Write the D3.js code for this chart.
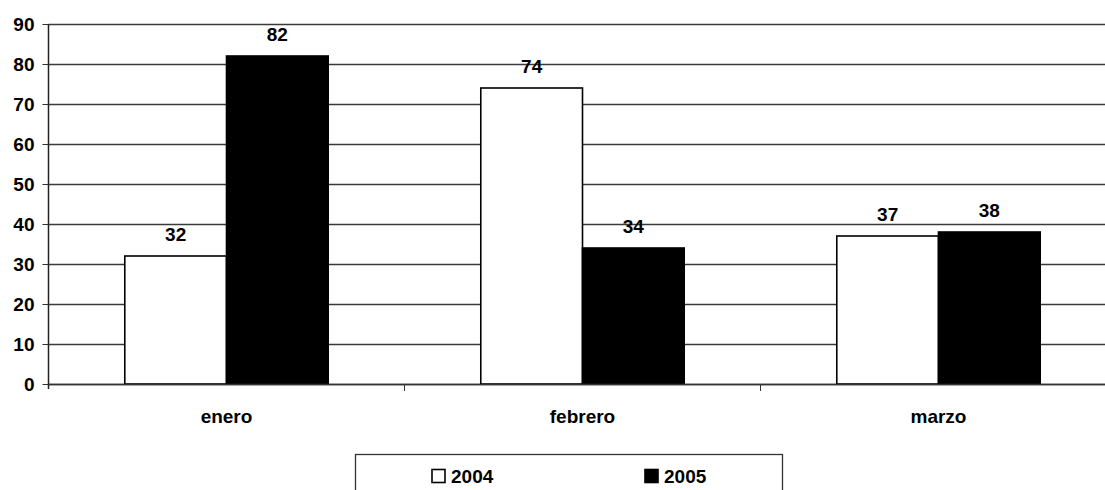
<!DOCTYPE html>
<html>
<head>
<meta charset="utf-8">
<script src="https://cdn.jsdelivr.net/npm/d3@7"></script>
<style>
  body { margin: 0; background: #fff; }
  svg { display: block; font-family: "Liberation Sans", Arial, sans-serif; font-weight: bold; }
</style>
</head>
<body>
<svg width="1105" height="490"></svg>
<script>
const months = ["enero", "febrero", "marzo"];
const years = ["2004", "2005"];
const values2004 = [32, 74, 37];
const values2005 = [82, 34, 38];
const yTicks = [0, 10, 20, 30, 40, 50, 60, 70, 80, 90];

const fills = { "2004": "#ffffff", "2005": "#000000" };
const svg = d3.select("svg");

const plotLeft = 48.5, plotTop = 24, plotBottom = 384;
const band = 356;

const x = d3.scaleBand()
  .domain(months)
  .range([plotLeft, plotLeft + band * 3])
  .paddingInner(0)
  .paddingOuter(0);

const xInner = d3.scaleBand()
  .domain(years)
  .range([0, band])
  .paddingInner(0)
  .paddingOuter(0.75);

const y = d3.scaleLinear().domain([0, 90]).range([plotBottom, plotTop]);

const data = months.map((m, i) => ({ month: m, "2004": values2004[i], "2005": values2005[i] }));

// gridlines
svg.append("g")
  .selectAll("line")
  .data(yTicks)
  .join("line")
  .attr("x1", plotLeft)
  .attr("x2", 1105)
  .attr("y1", d => Math.round(y(d)) + 0.5)
  .attr("y2", d => Math.round(y(d)) + 0.5)
  .attr("stroke", "#3a3a3a")
  .attr("stroke-width", 1.3);

// bars
const groups = svg.append("g")
  .selectAll("g")
  .data(data)
  .join("g")
  .attr("transform", d => `translate(${x(d.month)},0)`);

groups.selectAll("rect")
  .data(d => years.map(k => ({ key: k, value: d[k] })))
  .join("rect")
  .attr("x", d => xInner(d.key))
  .attr("width", xInner.bandwidth())
  .attr("y", d => y(d.value))
  .attr("height", d => plotBottom - y(d.value))
  .attr("fill", d => fills[d.key])
  .attr("stroke", "#000")
  .attr("stroke-width", 1.6);

groups.selectAll("text")
  .data(d => years.map(k => ({ key: k, value: d[k] })))
  .join("text")
  .attr("x", d => xInner(d.key) + xInner.bandwidth() / 2)
  .attr("y", d => y(d.value) - 15)
  .attr("text-anchor", "middle")
  .attr("font-size", 19)
  .text(d => d.value);

// y axis
const yAxis = svg.append("g")
  .attr("transform", `translate(${plotLeft},0)`)
  .call(d3.axisLeft(y).tickValues(yTicks).tickSize(6).tickPadding(8));
yAxis.select(".domain").attr("d", `M0,${plotTop}V${plotBottom + 5}`).attr("stroke", "#222").attr("stroke-width", 1.5);
yAxis.selectAll(".tick line").attr("stroke", "#333");
yAxis.selectAll(".tick text")
  .attr("font-size", 19)
  .attr("font-family", "Liberation Sans, Arial, sans-serif")
  .attr("font-weight", "bold")
  .attr("fill", "#000");

// x axis
const xAxis = svg.append("g")
  .attr("transform", `translate(0,${plotBottom})`)
  .call(d3.axisBottom(x).tickSize(0).tickPadding(26));
xAxis.select(".domain").attr("d", `M${plotLeft},0.5H1105`).attr("stroke", "#333").attr("stroke-width", 1.5);
xAxis.selectAll(".tick text")
  .attr("font-size", 19)
  .attr("font-family", "Liberation Sans, Arial, sans-serif")
  .attr("font-weight", "bold")
  .attr("fill", "#000");

// category separators
svg.append("g")
  .selectAll("line")
  .data(months.slice(1))
  .join("line")
  .attr("x1", d => x(d))
  .attr("x2", d => x(d))
  .attr("y1", plotBottom)
  .attr("y2", plotBottom + 7)
  .attr("stroke", "#333");

// legend
const legend = svg.append("g");
legend.append("rect")
  .attr("x", 355.5)
  .attr("y", 454.5)
  .attr("width", 427)
  .attr("height", 60)
  .attr("fill", "#fff")
  .attr("stroke", "#333")
  .attr("stroke-width", 1.3);

const legendX = d3.scalePoint().domain(years).range([431, 644]);
const items = legend.selectAll("g.item")
  .data(years)
  .join("g")
  .attr("class", "item")
  .attr("transform", d => `translate(${legendX(d)},0)`);
items.append("rect")
  .attr("x", 1)
  .attr("y", 469.5)
  .attr("width", 13)
  .attr("height", 13)
  .attr("fill", d => fills[d])
  .attr("stroke", "#000")
  .attr("stroke-width", 1.6);
items.append("text")
  .attr("x", 20)
  .attr("y", 483)
  .attr("font-size", 19)
  .text(d => d);
</script>
</body>
</html>
